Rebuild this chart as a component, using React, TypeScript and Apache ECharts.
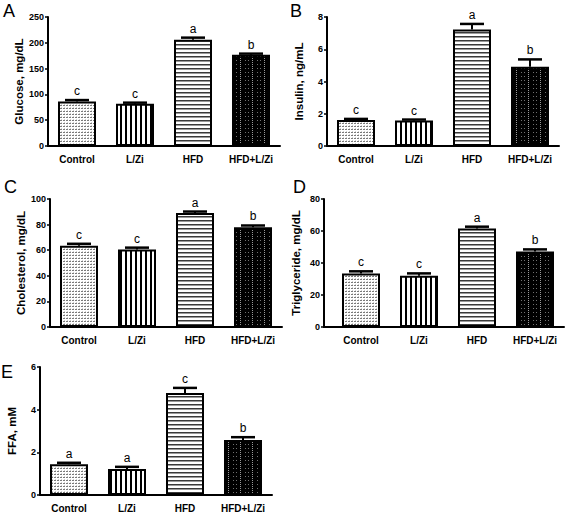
import React, { useEffect, useRef } from "react";
import * as echarts from "echarts";

const categories = ["Control", "L/Zi", "HFD", "HFD+L/Zi"];

const glucose = [86, 82, 206, 177];
const glucoseErr = [3, 2, 4, 2];
const glucoseLetters = ["c", "c", "a", "b"];

const insulin = [1.62, 1.58, 7.22, 4.92];
const insulinErr = [0.06, 0.06, 0.35, 0.45];
const insulinLetters = ["c", "c", "a", "b"];

const cholesterol = [63.5, 60.5, 89, 78];
const cholesterolErr = [1.5, 1.5, 1.2, 1.3];
const cholesterolLetters = ["c", "c", "a", "b"];

const triglyceride = [33.5, 32, 61.5, 47.2];
const triglycerideErr = [1.3, 1.5, 1.2, 1.3];
const triglycerideLetters = ["c", "c", "a", "b"];

const ffa = [1.44, 1.22, 4.78, 2.58];
const ffaErr = [0.07, 0.1, 0.24, 0.13];
const ffaLetters = ["a", "a", "c", "b"];

const FONT = "'Liberation Sans', Arial, Helvetica, sans-serif";

function makePattern(w: number, h: number, draw: (ctx: CanvasRenderingContext2D) => void) {
  const c = document.createElement("canvas");
  c.width = w;
  c.height = h;
  const ctx = c.getContext("2d")!;
  draw(ctx);
  return c;
}

function buildPatterns() {
  const dots = makePattern(3, 3, (ctx) => {
    ctx.fillStyle = "#ffffff";
    ctx.fillRect(0, 0, 3, 3);
    ctx.fillStyle = "#7a7a7a";
    ctx.fillRect(0, 0, 2, 1);
    ctx.fillStyle = "#d0d0d0";
    ctx.fillRect(1, 2, 1, 1);
  });
  const vstripes = makePattern(5, 5, (ctx) => {
    ctx.fillStyle = "#ffffff";
    ctx.fillRect(0, 0, 5, 5);
    ctx.fillStyle = "#000000";
    ctx.fillRect(0, 0, 2, 5);
  });
  const hstripes = makePattern(4, 4, (ctx) => {
    ctx.fillStyle = "#ffffff";
    ctx.fillRect(0, 0, 4, 4);
    ctx.fillStyle = "#3a3a3a";
    ctx.fillRect(0, 0, 4, 1);
    ctx.fillStyle = "#9a9a9a";
    ctx.fillRect(0, 1, 4, 1);
  });
  const darkdots = makePattern(12, 8, (ctx) => {
    ctx.fillStyle = "#000000";
    ctx.fillRect(0, 0, 12, 8);
    ctx.fillStyle = "#9a9a9a";
    for (let y = 0; y < 8; y += 2) ctx.fillRect(0, y, 1, 1);
    ctx.fillStyle = "#707070";
    ctx.fillRect(5, 0, 1, 1);
    ctx.fillRect(8, 0, 1, 1);
    ctx.fillRect(5, 4, 1, 1);
    ctx.fillRect(8, 4, 1, 1);
  });
  return [dots, vstripes, hstripes, darkdots].map((img) => ({ image: img, repeat: "repeat" }));
}

export default function App() {
  const ref = useRef<HTMLDivElement>(null);

  useEffect(() => {
    if (!ref.current) return;
    const chart = echarts.init(ref.current, undefined, { renderer: "svg" });
    const patterns = buildPatterns();

    const panels = [
      { name: "Glucose, mg/dL", vals: glucose, errs: glucoseErr, letters: glucoseLetters, max: 250, interval: 50, grid: { left: 48, top: 17, width: 232, height: 129 }, offset: 0, tag: "A", tagPos: [3, 2] },
      { name: "Insulin, ng/mL", vals: insulin, errs: insulinErr, letters: insulinLetters, max: 8, interval: 2, grid: { left: 327, top: 17, width: 232, height: 129 }, offset: 0, tag: "B", tagPos: [290, 2] },
      { name: "Cholesterol, mg/dL", vals: cholesterol, errs: cholesterolErr, letters: cholesterolLetters, max: 100, interval: 20, grid: { left: 50, top: 199, width: 232, height: 128 }, offset: 0, tag: "C", tagPos: [4, 178] },
      { name: "Triglyceride, mg/dL", vals: triglyceride, errs: triglycerideErr, letters: triglycerideLetters, max: 80, interval: 20, grid: { left: 332, top: 199, width: 232, height: 128 }, offset: 8, tag: "D", tagPos: [293, 178] },
      { name: "FFA, mM", vals: ffa, errs: ffaErr, letters: ffaLetters, max: 6, interval: 2, grid: { left: 40, top: 367, width: 232, height: 128 }, offset: 0, tag: "E", tagPos: [1, 363] },
    ];

    const grids: any[] = [];
    const xAxes: any[] = [];
    const yAxes: any[] = [];
    const series: any[] = [];
    const graphics: any[] = [];

    panels.forEach((p, k) => {
      grids.push({ ...p.grid, containLabel: false });
      xAxes.push({
        type: "category",
        gridIndex: k,
        data: categories,
        axisLine: { lineStyle: { color: "#000", width: 2 } },
        axisTick: { alignWithLabel: true, length: 4, lineStyle: { color: "#000", width: 1.5 } },
        axisLabel: { color: "#000", fontWeight: "bold", fontSize: 10, fontFamily: FONT, margin: 8 },
        splitLine: { show: false },
      });
      yAxes.push({
        type: "value",
        gridIndex: k,
        min: 0,
        max: p.max,
        interval: p.interval,
        offset: p.offset,
        name: p.name,
        nameLocation: "middle",
        nameGap: 22,
        nameTextStyle: { color: "#000", fontWeight: "bold", fontSize: 11.5, fontFamily: FONT },
        axisLine: { show: true, lineStyle: { color: "#000", width: 2 } },
        axisTick: { show: true, length: 3, lineStyle: { color: "#000", width: 1.5 } },
        axisLabel: { color: "#000", fontWeight: "bold", fontSize: 9, fontFamily: FONT, margin: 4 },
        splitLine: { show: false },
      });
      series.push({
        type: "bar",
        xAxisIndex: k,
        yAxisIndex: k,
        barWidth: 38,
        data: p.vals.map((v, i) => ({
          value: v,
          itemStyle: { color: patterns[i], borderColor: "#000", borderWidth: 2 },
        })),
        z: 2,
      });
      const letters = p.letters;
      series.push({
        type: "custom",
        xAxisIndex: k,
        yAxisIndex: k,
        data: p.vals.map((v, i) => [i, v, p.errs[i]]),
        z: 5,
        itemStyle: { color: "#000" },
        renderItem: (params: any, api: any) => {
          const x = api.value(0);
          const v = api.value(1);
          const e = api.value(2);
          const base = api.coord([x, v]);
          const top = api.coord([x, v + e]);
          const half = 12;
          return {
            type: "group",
            children: [
              { type: "line", shape: { x1: base[0], y1: base[1], x2: top[0], y2: top[1] }, style: { stroke: "#000", lineWidth: 2 } },
              { type: "line", shape: { x1: top[0] - half, y1: top[1], x2: top[0] + half, y2: top[1] }, style: { stroke: "#000", lineWidth: 2.5 } },
              {
                type: "text",
                x: top[0],
                y: top[1] - 3,
                style: { text: letters[params.dataIndex], textAlign: "center", textVerticalAlign: "bottom", font: `12px ${FONT}`, fill: "#000000" },
              },
            ],
          };
        },
      });
      graphics.push({
        type: "text",
        left: p.tagPos[0],
        top: p.tagPos[1],
        style: { text: p.tag, font: `18px ${FONT}`, fill: "#000" },
      });
    });

    // axis line continuation for panel D (y axis offset)
    graphics.push({
      type: "line",
      shape: { x1: 323, y1: 327, x2: 333, y2: 327 },
      style: { stroke: "#000", lineWidth: 2 },
    });

    chart.setOption({
      animation: false,
      backgroundColor: "#fff",
      grid: grids,
      xAxis: xAxes,
      yAxis: yAxes,
      series,
      graphic: graphics,
    });

    return () => chart.dispose();
  }, []);

  return <div ref={ref} style={{ position: "absolute", left: 0, top: 0, width: 565, height: 514 }} />;
}
